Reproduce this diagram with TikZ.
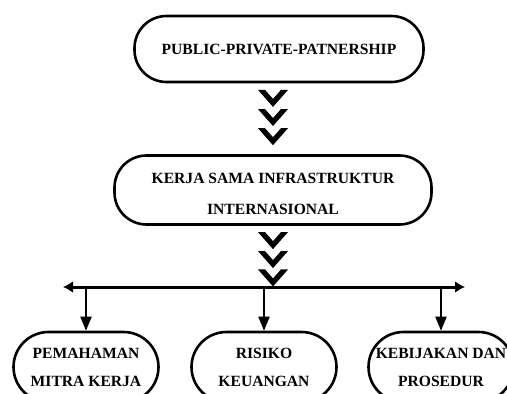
\documentclass[tikz,border=0pt]{standalone}
\usepackage{fontspec}
\setmainfont{Liberation Serif}
\usetikzlibrary{arrows.meta}

\begin{document}
\begin{tikzpicture}[x=1pt,y=-1pt,
	boxnode/.style={draw, line width=2.6pt, rounded corners=32pt, align=center, font=\bfseries\fontsize{15.6}{31}\selectfont},
	ovalnode/.style={draw, line width=2.6pt, rounded corners=35pt, minimum width=145pt, minimum height=70pt, inner sep=0pt, align=center, font=\bfseries\fontsize{15.6}{28}\selectfont},
	chev/.pic={\fill (-15,-9) -- (-8,-9) -- (0,0) -- (8,-9) -- (15,-9) -- (0,8) -- cycle;},
	]
	\useasboundingbox (0,0) rectangle (507,394);
	\clip (0,0) rectangle (507,394);
	%Nodes
	\node[boxnode, minimum width=289pt, minimum height=66pt] (ppp) at (279,49) {PUBLIC-PRIVATE-PATNERSHIP};
	\node[boxnode, minimum width=317pt, minimum height=69pt, text height=50pt] (ksi) at (273,190) {KERJA SAMA INFRASTRUKTUR\\INTERNASIONAL};
	\node[ovalnode] (mitra)  at (86,367)  {PEMAHAMAN\\MITRA KERJA};
	\node[ovalnode] (risiko) at (264,367) {RISIKO\\KEUANGAN};
	\node[ovalnode] (kebij)  at (441,367) {KEBIJAKAN DAN\\PROSEDUR};
	\coordinate (barL) at (63,287);
	\coordinate (barR) at (465,287);
	
	%Chevrons
	\path (ksi.north |- ppp.south) -- (ksi.north)
		pic[pos=0.22] {chev} pic[pos=0.49] {chev} pic[pos=0.76] {chev};
	\path (ksi.south) -- (ksi.south |- barL)
		pic[pos=0.25] {chev} pic[pos=0.56] {chev} pic[pos=0.86] {chev};
	
	%Lines
	\draw[line width=3pt, {Latex[length=10pt,width=12pt]}-{Latex[length=10pt,width=12pt]}] (barL) -- (barR);
	\draw[line width=2pt, -{Triangle[length=14pt,width=11pt]}] (mitra.north |- barL) -- (mitra.north);
	\draw[line width=2pt, -{Triangle[length=14pt,width=11pt]}] (risiko.north |- barL) -- (risiko.north);
	\draw[line width=2pt, -{Triangle[length=14pt,width=11pt]}] (kebij.north |- barL) -- (kebij.north);
\end{tikzpicture}
\end{document}
